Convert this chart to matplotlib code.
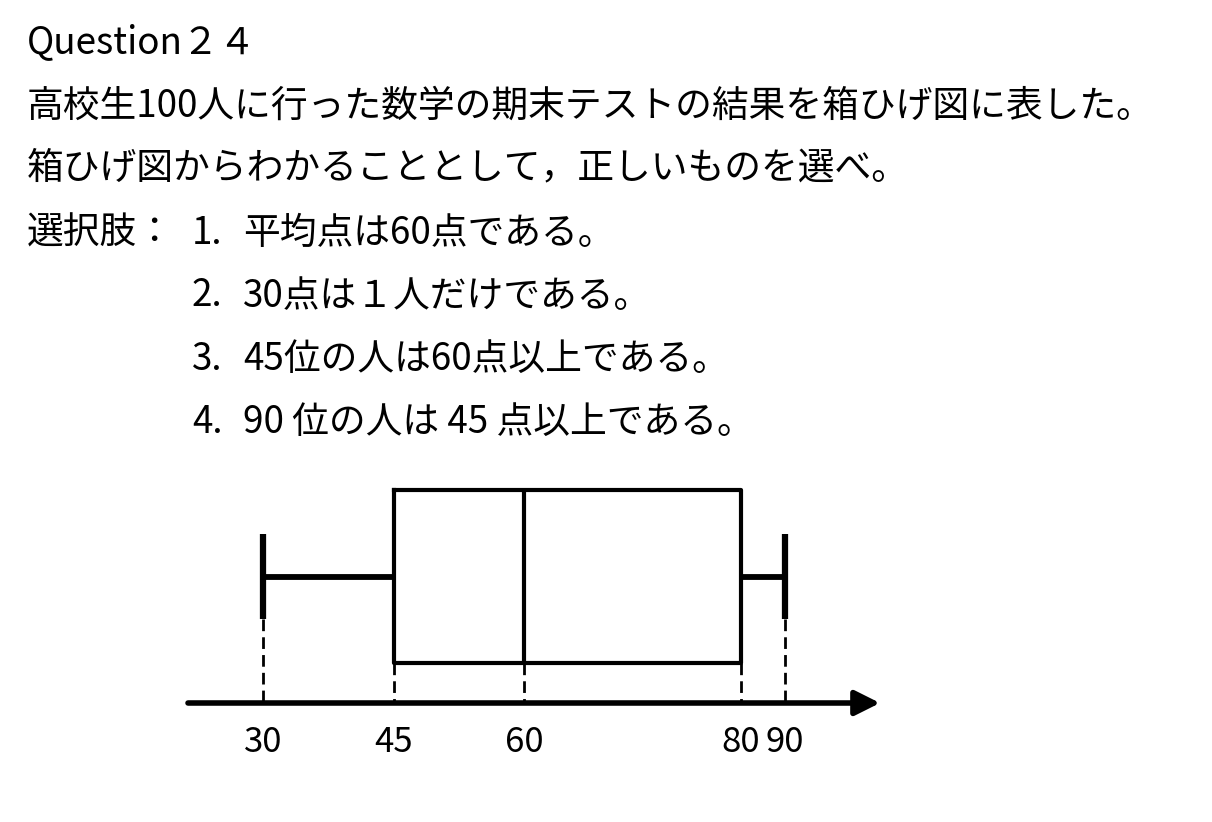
import numpy as np
import matplotlib
matplotlib.use("Agg")
import matplotlib.pyplot as plt
from matplotlib.patches import FancyArrowPatch

plt.rcParams['font.family'] = ['Noto Sans CJK JP', 'DejaVu Sans']

# question text
title = "Question２４"
prompt = ["高校生100人に行った数学の期末テストの結果を箱ひげ図に表した。",
          "箱ひげ図からわかることとして，正しいものを選べ。"]
choice_head = "選択肢："
choice_nums = ["1.", "2.", "3.", "4."]
choice_text = ["平均点は60点である。",
               "30点は１人だけである。",
               "45位の人は60点以上である。",
               "90 位の人は 45 点以上である。"]

# five-number summary of the box plot
whislo, q1, med, q3, whishi = 30, 45, 60, 80, 90
tick_vals = [30, 45, 60, 80, 90]
tick_labels = ["30", "45", "60", "80", "90"]

W, H = 1212, 822
fig = plt.figure(figsize=(W / 100, H / 100), dpi=100)
fx = lambda px: px / W
fy = lambda py: 1 - py / H

fs = 26.5
fig.text(fx(27), fy(43), title, fontsize=fs, va='center', ha='left')
for i, s in enumerate(prompt):
    fig.text(fx(27), fy(106 + 62 * i), s, fontsize=fs, va='center', ha='left')
fig.text(fx(27), fy(233), choice_head, fontsize=fs, va='center', ha='left')
for i, (n, s) in enumerate(zip(choice_nums, choice_text)):
    y = fy(233 + 63 * i)
    fig.text(fx(192), y, n, fontsize=fs, va='center', ha='left')
    fig.text(fx(243), y, s, fontsize=fs, va='center', ha='left')

# the drawing is not to scale: piecewise linear score -> pixel scale
score_pts = np.array([0, 30, 45, 60, 80, 90, 130])
pix_pts = np.array([1, 263, 394, 524, 741, 785, 961])

def fwd(x):
    return np.interp(x, score_pts, pix_pts)

def inv(p):
    return np.interp(p, pix_pts, score_pts)

ax_l, ax_r, ax_t, ax_b = 188, 880, 470, 703
ax = fig.add_axes([fx(ax_l), fy(ax_b), fx(ax_r - ax_l), (ax_b - ax_t) / H])
ax.set_xscale('function', functions=(fwd, inv))
ax.set_xlim(inv(ax_l), inv(ax_r))
ax.set_ylim(ax_b, ax_t)

box_mid, box_h, cap_len = 576.5, 173, 85
stats = [dict(whislo=whislo, q1=q1, med=med, q3=q3, whishi=whishi, fliers=[])]
ax.bxp(stats, positions=[box_mid], widths=[box_h], capwidths=[cap_len],
       orientation='horizontal', showfliers=False, manage_ticks=False,
       boxprops=dict(color='black', lw=3.0),
       medianprops=dict(color='black', lw=3.0),
       whiskerprops=dict(color='black', lw=4.2, solid_capstyle='butt'),
       capprops=dict(color='black', lw=4.5, solid_capstyle='butt'))

dash = (0, (4.2, 2.2))
ax.vlines([whislo, whishi], box_mid + cap_len / 2, ax_b, colors='black', lw=2, linestyles=[dash])
ax.vlines([q1, med, q3], box_mid + box_h / 2, ax_b, colors='black', lw=2, linestyles=[dash])

arrow = FancyArrowPatch((0, 0), (1, 0), transform=ax.transAxes,
                        arrowstyle='-|>,head_length=1.5,head_width=0.75',
                        mutation_scale=10, lw=4, color='black',
                        shrinkA=0, shrinkB=0, clip_on=False)
ax.add_patch(arrow)

for s in ax.spines.values():
    s.set_visible(False)
ax.set_yticks([])
ax.set_xticks(tick_vals, labels=tick_labels)
ax.xaxis.set_minor_locator(plt.NullLocator())
ax.tick_params(axis='x', length=0, pad=16, labelsize=25)

fig.savefig("out.png", dpi=100, facecolor='white')
